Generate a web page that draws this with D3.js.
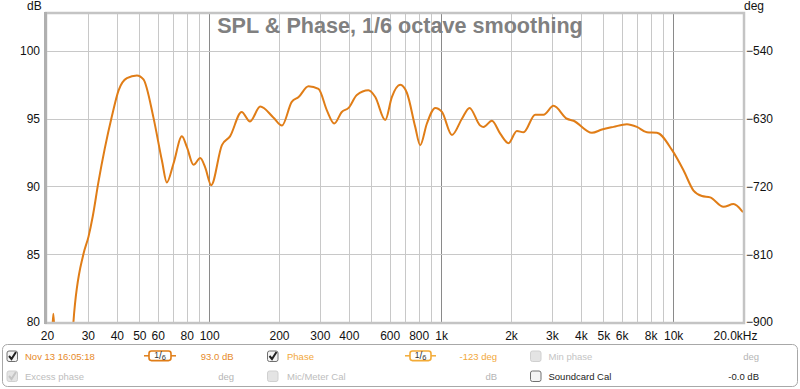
<!DOCTYPE html>
<html><head><meta charset="utf-8">
<script src="https://cdn.jsdelivr.net/npm/d3@7"></script>
<style>
html,body{margin:0;padding:0;background:#fff;}
svg{display:block;font-family:"Liberation Sans",Arial,sans-serif;}
</style></head>
<body><svg id="c" width="800" height="389"></svg>
<script>
// ---- data ----
const freqs = [20,21.0,21.3,21.6,22.5,24,25.2,26.0,28.7,30.2,31.5,33.3,38.1,40.7,44.2,48.8,52.1,57.5,62.6,65.7,70.2,76.3,80.2,85.6,91.5,96.2,102,113.5,123,138,150,166,189,206,227,243,268,296,322,346,373,399,433,486,520,574,613,666,712,773,812,868,943,1008,1113,1229,1325,1473,1522,1655,1797,1951,2120,2264,2544,2762,3050,3484,3720,4464,4931,5532,6318,6977,7705,8512,9878,11080,12238,13300,14444,16482,18204,19784,20000];
const splDb = [72,78.8,80.6,78.8,72,70,75,80.0,85.0,86.3,87.8,90.3,95.2,97.1,98.0,98.2,97.9,95.1,91.9,90.3,91.7,93.7,92.9,91.6,92.1,91.4,90.1,93.05,93.7,95.5,94.8,95.9,95.1,94.5,96.25,96.6,97.4,97.2,95.6,94.65,95.5,95.8,96.75,97.1,96.6,94.9,96.6,97.5,96.9,94.4,93.05,94.65,95.8,95.5,93.8,95.0,95.8,94.5,94.4,94.85,93.9,93.2,94.1,94.0,95.3,95.3,95.95,95.0,94.85,93.96,94.2,94.4,94.6,94.4,94.0,93.96,92.7,91.2,89.7,89.3,89.2,88.5,88.7,88.2,88.1];
const xTickVals = [20,30,40,50,60,80,100,200,300,400,600,800,1000,2000,3000,4000,5000,6000,8000,10000,20000];
const xTickLabels = ["20","30","40","50","60","80","100","200","300","400","600","800","1k","2k","3k","4k","5k","6k","8k","10k","20.0kHz"];
const dbTicks = [80,85,90,95,100];
const degTicks = [-900,-810,-720,-630,-540];
const title = "SPL & Phase, 1/6 octave smoothing";

// ---- layout ----
const L=47, R=743, T=14, B=322;
const svg = d3.select("#c");
const x = d3.scaleLog().domain([20,20000]).range([L,R]);
const y = d3.scaleLinear().domain([80,102.73]).range([B,T]);
const yDeg = d3.scaleLinear().domain([-900,-490.85]).range([B,T]);

// grid
const gridV = [];
[10,100,1000,10000].forEach(d=>{for(let m=1;m<10;m++){const f=d*m; if(f>=20&&f<=20000) gridV.push(f);} });
svg.append("g").selectAll("line").data(gridV.filter(f=>f>20&&f<20000)).join("line")
  .attr("x1",d=>Math.round(x(d))+0.5).attr("x2",d=>Math.round(x(d))+0.5)
  .attr("y1",T).attr("y2",B)
  .attr("stroke",d=>[100,1000,10000].includes(d)?"#8a8a8a":"#c8c8c8").attr("stroke-width",1);
svg.append("g").selectAll("line").data(dbTicks.filter(v=>v>80)).join("line")
  .attr("x1",L).attr("x2",R).attr("y1",d=>Math.round(y(d))+0.5).attr("y2",d=>Math.round(y(d))+0.5)
  .attr("stroke","#c8c8c8");

// curve
svg.append("clipPath").attr("id","clip").append("rect").attr("x",L).attr("y",T).attr("width",R-L).attr("height",B-T);
const pts = freqs.map((f,i)=>[f,splDb[i]]);
svg.append("path").datum(pts).attr("clip-path","url(#clip)")
  .attr("fill","none").attr("stroke","#e07d17").attr("stroke-width",2).attr("stroke-linejoin","round")
  .attr("d",d3.line().x(d=>x(d[0])).y(d=>y(d[1])).curve(d3.curveMonotoneX));

// frame
svg.append("rect").attr("x",L-1).attr("y",T-1).attr("width",R-L+2).attr("height",B-T+2)
  .attr("fill","none").attr("stroke","#c4c4c4").attr("stroke-width",2.5);
svg.append("line").attr("x1",L-1.5).attr("x2",L-1.5).attr("y1",T-2).attr("y2",B+2).attr("stroke","#b0b0b0").attr("stroke-width",3);

// axes
const fmt = {};
xTickVals.forEach((v,i)=>fmt[v]=xTickLabels[i]);
const xAxis = d3.axisBottom(x).tickValues(xTickVals).tickFormat(d=>fmt[d]).tickSize(0).tickPadding(0);
const gx = svg.append("g").attr("transform",`translate(0,${B})`).call(xAxis);
gx.select(".domain").remove();
gx.selectAll("text").attr("font-size",12).attr("fill","#111").attr("font-family","Liberation Sans, Arial, sans-serif").attr("dy",null).attr("y",18);
gx.selectAll("text").filter(d=>d===20000).attr("text-anchor","end").attr("x",14);

const yAxis = d3.axisLeft(y).tickValues(dbTicks).tickSize(0).tickPadding(0);
const gy = svg.append("g").attr("transform","translate(40,0)").call(yAxis);
gy.select(".domain").remove();
gy.selectAll("text").attr("font-size",12).attr("fill","#111").attr("font-family","Liberation Sans, Arial, sans-serif");

const yAxisR = d3.axisRight(yDeg).tickValues(degTicks).tickSize(0).tickPadding(0);
const gr = svg.append("g").attr("transform","translate(746,0)").call(yAxisR);
gr.select(".domain").remove();
gr.selectAll("text").attr("font-size",12).attr("fill","#111").attr("font-family","Liberation Sans, Arial, sans-serif");

svg.append("text").attr("x",27).attr("y",10).attr("font-size",12).attr("fill","#111").text("dB");
svg.append("text").attr("x",744).attr("y",10).attr("font-size",12).attr("fill","#111").text("deg");

svg.append("text").attr("x",400).attr("y",33).attr("text-anchor","middle").attr("font-size",21.6)
  .attr("font-weight","bold").attr("fill","#808080").text(title);

// ---- legend ----
const lg = svg.append("g");
lg.append("rect").attr("x",2.5).attr("y",344.5).attr("width",795).attr("height",42).attr("rx",5)
  .attr("fill","#fff").attr("stroke","#a8a8a8").attr("stroke-width",1);

function checkbox(cx,cy,checked,disabled){
  const g = lg.append("g").attr("transform",`translate(${cx},${cy})`);
  g.append("rect").attr("x",0.5).attr("y",0.5).attr("width",10.5).attr("height",10.5).attr("rx",2)
    .attr("fill",disabled?"#e4e4e4":"#f4f4f4").attr("stroke",disabled?"#d0d0d0":"#707070");
  if(checked) g.append("path").attr("d","M2.5,5.5 L5,8.5 L9.5,1.5").attr("fill","none")
    .attr("stroke",disabled?"#c4c4c4":"#222").attr("stroke-width",2);
}
function badge(x0,x1,cy,col){
  const g = lg.append("g");
  g.append("line").attr("x1",x0).attr("x2",x1).attr("y1",cy).attr("y2",cy).attr("stroke",col).attr("stroke-width",1.5);
  g.append("rect").attr("x",x0+5).attr("y",cy-4.8).attr("width",x1-x0-10).attr("height",9.6).attr("rx",2.5)
    .attr("fill","#fff").attr("stroke",col).attr("stroke-width",1.6);
  const t = g.append("text").attr("x",(x0+x1)/2).attr("y",cy+3.5).attr("text-anchor","middle").attr("fill","#333").attr("font-size",9);
  t.append("tspan").attr("font-size",8.5).attr("dy",-1).text("1");
  t.append("tspan").attr("font-size",10).attr("dy",1).text("/");
  t.append("tspan").attr("font-size",7.5).attr("dy",1).text("6");
}
function txt(xp,yp,s,col,anchor){
  lg.append("text").attr("x",xp).attr("y",yp).attr("font-size",9.5).attr("fill",col)
    .attr("text-anchor",anchor||"start").text(s);
}
const r1=359.5, r2=379.5;
checkbox(6.5,350.5,true,false);
txt(25,r1,"Nov 13 16:05:18","#e68a2a");
badge(144,176,355.8,"#e07d17");
txt(233.5,r1,"93.0 dB","#e68a2a","end");
checkbox(6.5,370.5,true,true);
txt(25,r2,"Excess phase","#bdbdbd");
txt(234,r2,"deg","#b5b5b5","end");

checkbox(267,350.5,true,false);
txt(287,r1,"Phase","#f2a83a");
badge(405,436,355.8,"#f3ab37");
txt(497,r1,"-123 deg","#f2a83a","end");
checkbox(267,370.5,false,true);
txt(287,r2,"Mic/Meter Cal","#bdbdbd");
txt(497,r2,"dB","#b5b5b5","end");

checkbox(530,350.5,false,true);
txt(548.5,r1,"Min phase","#c4c4c4");
txt(759,r1,"deg","#b5b5b5","end");
checkbox(530,370.5,false,false);
txt(548.5,r2,"Soundcard Cal","#222");
txt(759,r2,"-0.0 dB","#222","end");
</script></body></html>
